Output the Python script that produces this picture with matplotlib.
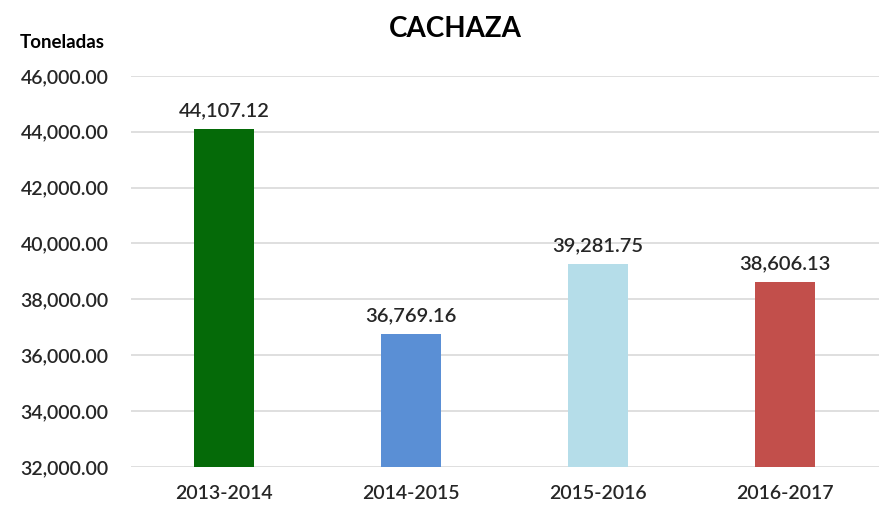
import matplotlib
matplotlib.use("Agg")
from matplotlib import pyplot as plt
from matplotlib.ticker import FuncFormatter

# Data
periods = ["2013-2014", "2014-2015", "2015-2016", "2016-2017"]
toneladas = [44107.12, 36769.16, 39281.75, 38606.13]
bar_colors = ["#056A08", "#5A8FD5", "#B5DDE9", "#C24F4B"]

plt.rcParams['font.family'] = ['Lato', 'DejaVu Sans']

fig = plt.figure(figsize=(8.84, 5.09), dpi=100)
ax = fig.add_axes([0.148, 0.0825, 0.846, 0.7685])

x = range(len(periods))
ax.bar(x, toneladas, width=0.32, color=bar_colors, bottom=0, zorder=3)
ax.set_ylim(32000, 46000)
ax.set_xlim(-0.5, len(periods) - 0.5)
ax.set_yticks(range(32000, 46001, 2000))
ax.yaxis.set_major_formatter(FuncFormatter(lambda v, p: f"{v:,.2f}"))
ax.set_xticks(list(x))
ax.set_xticklabels(periods)

ax.grid(axis='y', color='#D9D9D9', linewidth=1.2, zorder=0)
for s in ax.spines.values():
    s.set_visible(False)
ax.tick_params(length=0, labelsize=14, colors='#262626')
ax.tick_params(axis='x', pad=13)
ax.tick_params(axis='y', pad=16)
for lbl in ax.get_xticklabels() + ax.get_yticklabels():
    lbl.set_fontweight('semibold')

for i, v in enumerate(toneladas):
    ax.annotate(f"{v:,.2f}", (i, v), xytext=(0, 7), textcoords='offset points',
                ha='center', va='bottom', fontsize=14.5, color='#262626',
                fontweight='semibold')

fig.text(0.515, 0.943, "CACHAZA", ha='center', va='center', fontsize=20,
         fontweight='bold', color='black')
fig.text(0.022, 0.917, "Toneladas", ha='left', va='center', fontsize=13.5,
         fontweight='bold', color='black')

plt.savefig("out.png", dpi=100)
